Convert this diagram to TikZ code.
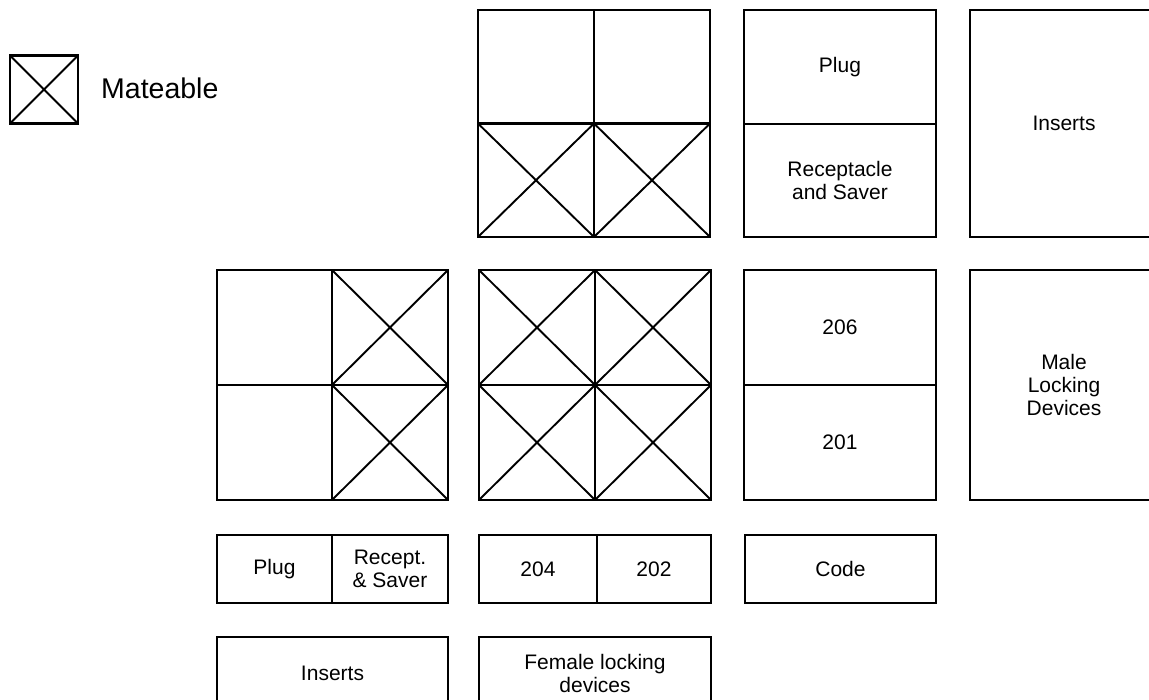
\documentclass[tikz,border=0pt]{standalone}
\usepackage{fontspec}
\setmainfont{Liberation Sans}
\usepackage{tikz}

\begin{document}
\begin{tikzpicture}[x=1pt,y=-1pt,
  cell/.style={draw,rectangle,line width=2.6pt,inner sep=0pt,outer sep=0pt,align=center,font=\fontsize{21}{23}\selectfont},
  diag/.style={line width=1.9pt}]
  \useasboundingbox (0,0) rectangle (1149,700);
  % legend
  \node[cell,minimum width=68pt,minimum height=68pt] (key) at (44,89.5) {};
  \node[anchor=west,inner sep=0pt,font=\fontsize{28.5}{31}\selectfont] (mateable) at (101,88) {Mateable};
  \draw[diag] (key.north west) -- (key.south east) (key.north east) -- (key.south west);
  % top row
  \node[cell,minimum width=116pt,minimum height=113.5pt] (u1) at (536,66.75) {};
  \node[cell,minimum width=116pt,minimum height=113.5pt] (u2) at (652,66.75) {};
  \node[cell,minimum width=116pt,minimum height=113.5pt] (u3) at (536,180.25) {};
  \node[cell,minimum width=116pt,minimum height=113.5pt] (u4) at (652,180.25) {};
  \draw[diag] (u3.north west) -- (u3.south east) (u3.north east) -- (u3.south west);
  \draw[diag] (u4.north west) -- (u4.south east) (u4.north east) -- (u4.south west);
  \node[cell,minimum width=192pt,minimum height=114pt] (plug) at (840,67) {Plug};
  \node[cell,minimum width=192pt,minimum height=113pt] (recsav) at (840,180.5) {Receptacle\\and Saver};
  \node[cell,minimum width=188pt,minimum height=227pt] (inserts) at (1064,123.5) {Inserts};
  % middle row
  \node[cell,minimum width=115pt,minimum height=115pt] (l1) at (274.5,327.5) {};
  \node[cell,minimum width=116pt,minimum height=115pt] (l2) at (390,327.5) {};
  \node[cell,minimum width=115pt,minimum height=115pt] (l3) at (274.5,442.5) {};
  \node[cell,minimum width=116pt,minimum height=115pt] (l4) at (390,442.5) {};
  \draw[diag] (l2.north west) -- (l2.south east) (l2.north east) -- (l2.south west);
  \draw[diag] (l4.north west) -- (l4.south east) (l4.north east) -- (l4.south west);
  \node[cell,minimum width=116pt,minimum height=115pt] (m1) at (537,327.5) {};
  \node[cell,minimum width=116pt,minimum height=115pt] (m2) at (653,327.5) {};
  \node[cell,minimum width=116pt,minimum height=115pt] (m3) at (537,442.5) {};
  \node[cell,minimum width=116pt,minimum height=115pt] (m4) at (653,442.5) {};
  \draw[diag] (m1.north west) -- (m1.south east) (m1.north east) -- (m1.south west);
  \draw[diag] (m2.north west) -- (m2.south east) (m2.north east) -- (m2.south west);
  \draw[diag] (m3.north west) -- (m3.south east) (m3.north east) -- (m3.south west);
  \draw[diag] (m4.north west) -- (m4.south east) (m4.north east) -- (m4.south west);
  \node[cell,minimum width=192pt,minimum height=115pt] (n206) at (840,327.5) {206};
  \node[cell,minimum width=192pt,minimum height=115pt] (n201) at (840,442.5) {201};
  \node[cell,minimum width=188pt,minimum height=230pt] (male) at (1064,385) {Male\\Locking\\Devices};
  % lower rows
  \node[cell,minimum width=115pt,minimum height=68pt] (plugb) at (274.5,569) {Plug};
  \node[cell,minimum width=116pt,minimum height=68pt] (recb) at (390,569) {Recept.\\\& Saver};
  \node[cell,minimum width=118pt,minimum height=68pt] (n204) at (538,569) {204};
  \node[cell,minimum width=114pt,minimum height=68pt] (n202) at (654,569) {202};
  \node[cell,minimum width=191pt,minimum height=68pt] (code) at (840.5,569) {Code};
  \node[cell,minimum width=231pt,minimum height=72pt] (insb) at (332.5,673) {Inserts};
  \node[cell,minimum width=232pt,minimum height=72pt] (female) at (595,673) {Female locking\\devices};
\end{tikzpicture}
\end{document}
